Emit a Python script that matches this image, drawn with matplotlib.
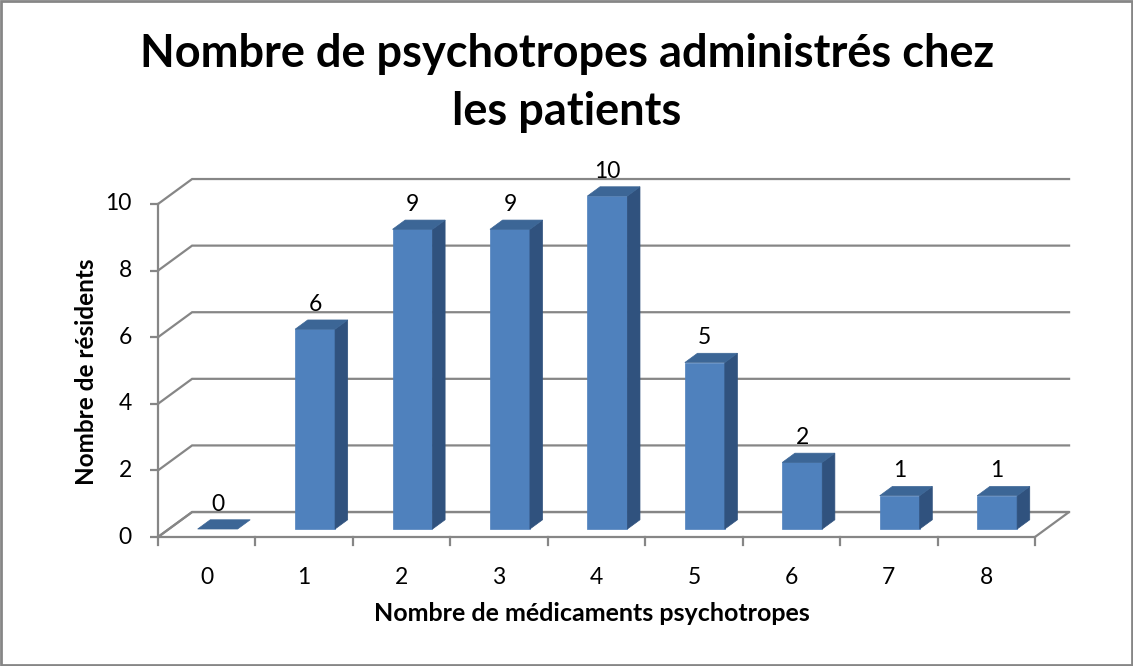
import matplotlib
matplotlib.use("Agg")
import matplotlib.pyplot as plt
from matplotlib.patches import Polygon, Rectangle

categories = ["0", "1", "2", "3", "4", "5", "6", "7", "8"]
residents = [0, 6, 9, 9, 10, 5, 2, 1, 1]
y_ticks = [0, 2, 4, 6, 8, 10]

title_lines = ["Nombre de psychotropes administrés chez", "les patients"]
x_label = "Nombre de médicaments psychotropes"
y_label = "Nombre de résidents"

plt.rcParams['font.family'] = ['Lato', 'DejaVu Sans']

# oblique "3D" projection, depth z goes from 0 (front) to 1 (back wall)
DEPTH_X = 0.35   # in category units
DEPTH_Y = 0.75   # in value units
BAR_W = 0.41
Z_FRONT, Z_BACK = 0.32, 0.69

GRID = "#868686"
FRONT = "#4F81BD"
TOP = "#3C6696"
SIDE = "#30527E"


def proj(x, y, z):
  return x + z * DEPTH_X, y + z * DEPTH_Y


def face(pts, color):
  return Polygon([proj(*p) for p in pts], closed=True, facecolor=color,
                 edgecolor=color, linewidth=0.5, zorder=3)


fig = plt.figure(figsize=(11.33, 6.66), dpi=100)
fig.patches.append(Rectangle((0.001, 0.002), 0.998, 0.996,
                             transform=fig.transFigure, fill=False,
                             edgecolor="#868686", linewidth=2))

ax = fig.add_axes([150 / 1133, 106 / 666, 930 / 1133, 390 / 666])
ax.set_xlim(-8 / 97.44, 922 / 97.44)
ax.set_ylim(-23 / 33.3, 367 / 33.3)
ax.axis("off")

n = len(categories)

# walls and gridlines
for v in y_ticks:
  p0 = proj(0, v, 0)
  p1 = proj(0, v, 1)
  p2 = proj(n, v, 1)
  ax.plot([p0[0], p1[0], p2[0]], [p0[1], p1[1], p2[1]], color=GRID,
          lw=1.6, zorder=1, solid_joinstyle="miter")
  ax.plot([0, -0.08], [v, v], color=GRID, lw=1.6, zorder=1)
  ax.text(-0.27, v, str(v), ha="right", va="center", fontsize=16.5)

# floor
floor = [proj(0, 0, 0), proj(n, 0, 0), proj(n, 0, 1), proj(0, 0, 1)]
ax.add_patch(Polygon(floor, closed=True, fill=False, edgecolor=GRID, lw=1.6,
                     zorder=1))
ax.plot([0, 0], [0, y_ticks[-1]], color=GRID, lw=1.6, zorder=1)

for i in range(n + 1):
  ax.plot([i, i], [0, -0.25], color=GRID, lw=1.6, zorder=1)

for i, (cat, v) in enumerate(zip(categories, residents)):
  xl = i + 0.5 - BAR_W / 2
  xr = i + 0.5 + BAR_W / 2
  if v > 0:
    ax.add_patch(face([(xl, 0, Z_FRONT), (xr, 0, Z_FRONT), (xr, v, Z_FRONT),
                       (xl, v, Z_FRONT)], FRONT))
    ax.add_patch(face([(xr, 0, Z_FRONT), (xr, 0, Z_BACK), (xr, v, Z_BACK),
                       (xr, v, Z_FRONT)], SIDE))
  ax.add_patch(face([(xl, v, Z_FRONT), (xr, v, Z_FRONT), (xr, v, Z_BACK),
                     (xl, v, Z_BACK)], TOP))
  lx, ly = proj(i + 0.5, v, Z_BACK)
  ax.text(i + 0.5 + Z_FRONT * DEPTH_X, ly + 0.15, str(v), ha="center",
          va="bottom", fontsize=16.5)
  ax.text(i + 0.5, -1.23, cat, ha="center", va="center", fontsize=16.5)

ax.text(n / 2 - 0.05, -2.3, x_label, ha="center", va="center",
        fontsize=18, fontweight="bold")
fig.text(86 / 1133, 1 - 372 / 666, y_label, rotation=90, ha="center",
         va="center", fontsize=17.5, fontweight="bold")
fig.text(567 / 1133, 1 - 67 / 666, title_lines[0], ha="center",
         va="baseline", fontsize=32.5, fontweight="bold")
fig.text(567 / 1133, 1 - 125 / 666, title_lines[1], ha="center",
         va="baseline", fontsize=32.5, fontweight="bold")

fig.savefig("out.png", dpi=100)
